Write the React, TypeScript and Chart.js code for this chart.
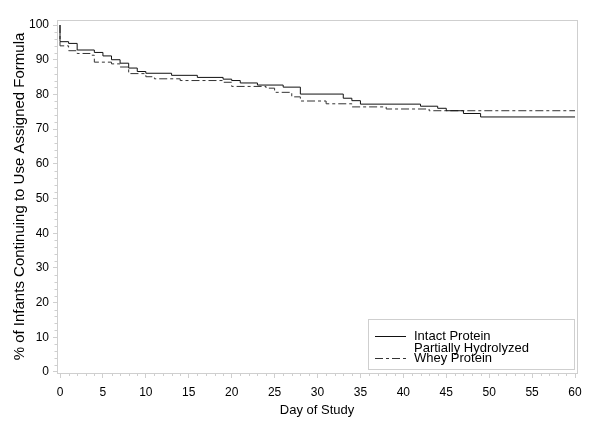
import { useEffect, useRef } from 'react'
import { Chart, registerables, Plugin } from 'chart.js'

Chart.register(...registerables)

// Kaplan-Meier style steps (day, % still on formula)
const intactDays = [0, 0, 1, 2, 4, 5, 6, 7, 8, 9, 10, 13, 16, 19, 20, 21, 23, 26, 28, 33, 34, 35, 42, 44, 45, 47, 49, 60]
const intactPct = [100, 95.2, 94.7, 92.8, 92.1, 91.1, 90.0, 89.0, 87.6, 86.6, 86.1, 85.5, 84.9, 84.4, 84.0, 83.3, 82.7, 82.1, 80.1, 78.9, 78.2, 77.2, 76.6, 76.0, 75.3, 74.5, 73.5, 73.5]

const wheyDays = [0, 0, 1, 2, 3.5, 4, 6, 7, 8, 10, 11, 14, 19, 20, 24, 25, 27, 28, 31, 34, 38, 43, 60]
const wheyPct = [100, 94.0, 92.6, 91.8, 91.3, 89.3, 88.8, 87.9, 86.0, 85.1, 84.5, 84.0, 83.5, 82.3, 81.8, 80.6, 79.3, 78.1, 77.3, 76.4, 75.8, 75.3, 75.3]

const seriesLabels = ['Intact Protein', 'Partially Hydrolyzed\nWhey Protein']
const xTicks = [0, 5, 10, 15, 20, 25, 30, 35, 40, 45, 50, 55, 60]
const yTicks = [0, 10, 20, 30, 40, 50, 60, 70, 80, 90, 100]

const FONT = "'Liberation Sans', Arial, Helvetica, sans-serif"
const FRAME = '#cfcfcf'

const toPoints = (xs: number[], ys: number[]) => xs.map((x, i) => ({ x, y: ys[i] }))

// frame, minor ticks and the boxed legend in the lower right
const sasFrame: Plugin = {
  id: 'sasFrame',
  afterDraw(chart) {
    const { ctx, chartArea } = chart
    const xs = chart.scales.x
    const ys = chart.scales.y
    ctx.save()
    ctx.strokeStyle = FRAME
    ctx.lineWidth = 1
    ctx.strokeRect(Math.round(chartArea.left) + 0.5, Math.round(chartArea.top) + 0.5,
      Math.round(chartArea.right - chartArea.left), Math.round(chartArea.bottom - chartArea.top))

    ctx.beginPath()
    for (let d = 0; d <= 60; d++) {
      if (d % 5 === 0) continue
      const px = Math.round(xs.getPixelForValue(d)) + 0.5
      ctx.moveTo(px, chartArea.bottom)
      ctx.lineTo(px, chartArea.bottom + 3)
    }
    for (let v = 0; v <= 100; v += 2) {
      if (v % 10 === 0) continue
      const py = Math.round(ys.getPixelForValue(v)) + 0.5
      ctx.moveTo(chartArea.left, py)
      ctx.lineTo(chartArea.left - 2.5, py)
    }
    ctx.stroke()

    // legend box
    const bx = chartArea.right - 209
    const by = chartArea.bottom - 54
    ctx.strokeRect(Math.round(bx) + 0.5, Math.round(by) + 0.5, 206, 50)
    ctx.font = `13px ${FONT}`
    ctx.fillStyle = '#000'
    ctx.textBaseline = 'middle'
    ctx.textAlign = 'left'
    const rows = [by + 17, by + 39]
    chart.data.datasets.forEach((ds: any, i: number) => {
      const ly = rows[i]
      ctx.save()
      ctx.strokeStyle = ds.borderColor
      ctx.lineWidth = ds.borderWidth
      ctx.setLineDash(ds.borderDash || [])
      ctx.beginPath()
      ctx.moveTo(bx + 7, Math.round(ly) + 0.5)
      ctx.lineTo(bx + 38, Math.round(ly) + 0.5)
      ctx.stroke()
      ctx.restore()
      const lines = String(ds.label).split('\n')
      lines.forEach((t, j) => {
        ctx.fillText(t, bx + 46, ly - (lines.length - 1 - j) * 10)
      })
    })
    ctx.restore()
  },
}

export default function App() {
  const canvasRef = useRef<HTMLCanvasElement>(null)
  const chartRef = useRef<Chart | null>(null)

  useEffect(() => {
    if (!canvasRef.current) return
    if (chartRef.current) chartRef.current.destroy()

    Chart.defaults.font.family = FONT
    Chart.defaults.color = '#000'

    chartRef.current = new Chart(canvasRef.current, {
      type: 'line',
      data: {
        datasets: [
          {
            label: seriesLabels[0],
            data: toPoints(intactDays, intactPct),
            borderColor: '#111',
            borderWidth: 1,
            stepped: 'before',
            pointRadius: 0,
            fill: false,
          },
          {
            label: seriesLabels[1],
            data: toPoints(wheyDays, wheyPct),
            borderColor: '#333',
            borderWidth: 1,
            borderDash: [8, 3, 3, 3],
            stepped: 'before',
            pointRadius: 0,
            fill: false,
          },
        ],
      },
      options: {
        responsive: false,
        animation: false,
        layout: { padding: { top: 20, right: 23, left: 0, bottom: 0 } },
        plugins: {
          legend: { display: false },
          tooltip: { enabled: false },
        },
        scales: {
          x: {
            type: 'linear',
            min: -0.35,
            max: 60.23,
            afterBuildTicks: (s) => { s.ticks = xTicks.map((value) => ({ value })) },
            afterFit: (s) => { s.height = 60 },
            grid: { drawOnChartArea: false, drawTicks: true, tickLength: 5, tickColor: FRAME },
            border: { display: false },
            ticks: { padding: 7, font: { size: 12 }, color: '#000', maxRotation: 0 },
            title: { display: true, text: 'Day of Study', font: { size: 13 }, padding: { top: 0, bottom: 15 } },
          },
          y: {
            type: 'linear',
            min: -0.3,
            max: 101.45,
            afterBuildTicks: (s) => { s.ticks = yTicks.map((value) => ({ value })) },
            afterFit: (s) => { s.width = 57 },
            grid: { drawOnChartArea: false, drawTicks: true, tickLength: 4, tickColor: FRAME },
            border: { display: false },
            ticks: { padding: 4, font: { size: 12 }, color: '#000' },
            title: {
              display: true,
              text: '% of Infants Continuing to Use Assigned Formula',
              font: { size: 15 },
              padding: { top: 11, bottom: 0 },
            },
          },
        },
      },
      plugins: [sasFrame],
    })

    return () => {
      if (chartRef.current) {
        chartRef.current.destroy()
        chartRef.current = null
      }
    }
  }, [])

  return (
    <div style={{ position: 'absolute', left: 0, top: 0, width: 600, height: 433, background: '#fff' }}>
      <canvas ref={canvasRef} width={600} height={433}></canvas>
    </div>
  )
}
